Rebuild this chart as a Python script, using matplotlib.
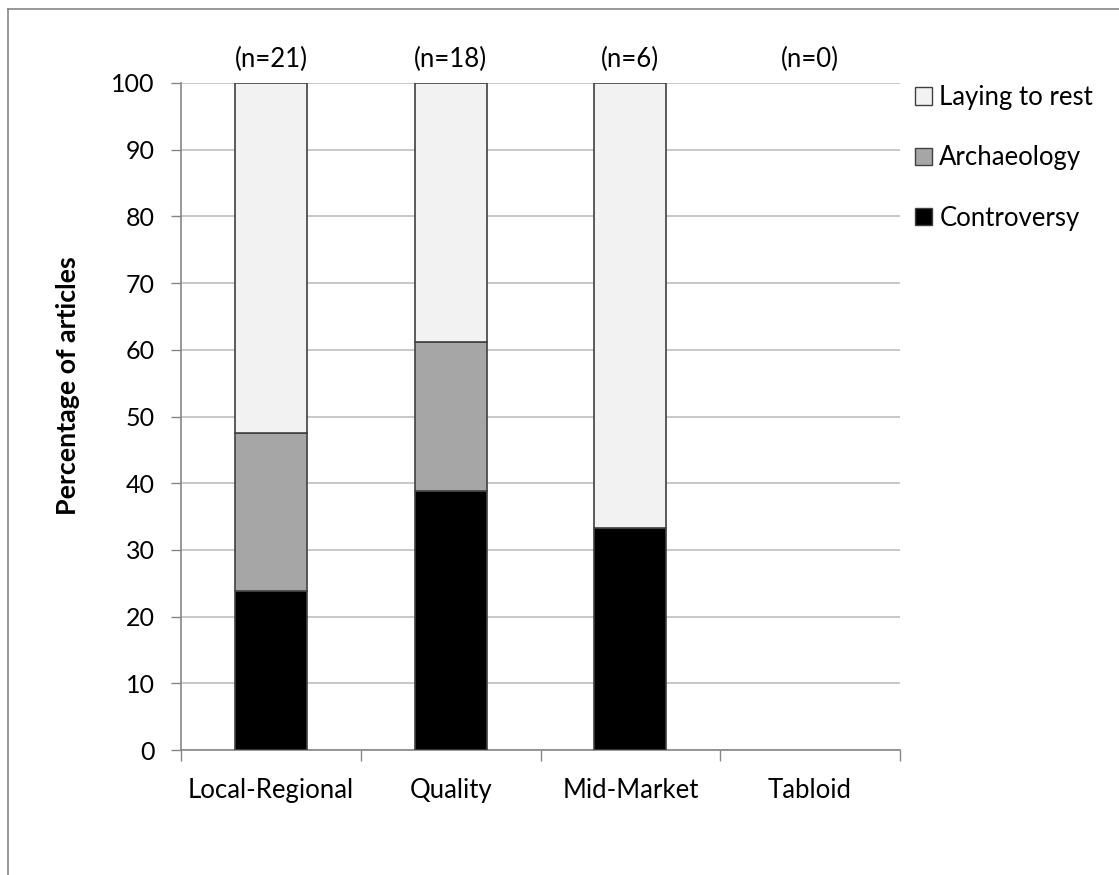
import matplotlib.pyplot as plt
from matplotlib.lines import Line2D
from matplotlib.patches import Patch
import numpy as np

plt.rcParams['font.family'] = ['Lato', 'DejaVu Sans']

# Data
categories = ['Local-Regional', 'Quality', 'Mid-Market', 'Tabloid']
counts = [21, 18, 6, 0]
controversy = [23.8, 38.9, 33.3, 0]
archaeology = [23.8, 22.2, 0, 0]
laying_to_rest = [52.4, 38.9, 66.7, 0]

series_names = ['Controversy', 'Archaeology', 'Laying to rest']
series_colors = ['#000000', '#A6A6A6', '#F2F2F2']

fig = plt.figure(figsize=(11.19, 8.75), dpi=100)
ax = fig.add_axes([181 / 1119, 1 - 750 / 875, (900 - 181) / 1119, (750 - 83) / 875])

x = np.arange(len(categories))
bottom = np.zeros(len(categories))
for vals, name, col in zip([controversy, archaeology, laying_to_rest], series_names, series_colors):
    vals = np.array(vals)
    # no outline on empty segments
    lw = np.where(vals > 0, 1.2, 0)
    ax.bar(x, vals, width=0.4, bottom=bottom, color=col, edgecolor='#404040',
           linewidth=lw, label=name, zorder=3)
    bottom += vals

# n labels above bars
for i, n in enumerate(counts):
    ax.text(x[i], 101.6, f'(n={n})', ha='center', va='bottom', fontsize=18.5)

ax.set_xlim(-0.5, len(categories) - 0.5)
ax.set_ylim(0, 100)
ax.set_yticks(np.arange(0, 101, 10))
ax.tick_params(axis='y', labelsize=18, length=7, width=1, color='#868686', pad=12)
ax.set_xticks(x)
ax.set_xticklabels(categories)
ax.set_xticks(np.arange(-0.5, len(categories)), minor=True)
ax.tick_params(axis='x', which='major', length=0, labelsize=18.5, pad=20)
ax.tick_params(axis='x', which='minor', length=8, width=1, color='#868686')
ax.grid(axis='y', color='#BFBFBF', linewidth=1.2, zorder=0)

for side in ['top', 'right']:
    ax.spines[side].set_visible(False)
for side in ['left', 'bottom']:
    ax.spines[side].set_color('#868686')
    ax.spines[side].set_linewidth(1.2)

ax.set_ylabel('Percentage of articles', fontsize=19.3, fontweight='bold')
ax.yaxis.set_label_coords((80 - 181) / (900 - 181), (750 - 386) / (750 - 83))

# Legend
handles = [Patch(facecolor=c, edgecolor='#404040', label=n)
           for n, c in zip(series_names, series_colors)][::-1]
fig.legend(handles=handles, loc='upper left', bbox_to_anchor=(915 / 1119, 1 - 85 / 875),
           frameon=False, fontsize=18.5, handlelength=0.65, handleheight=0.65,
           handletextpad=0.3, labelspacing=1.38, borderaxespad=0, borderpad=0)

# Outer chart frame
fig.add_artist(Line2D([8 / 1119, 8 / 1119], [0, 1 - 9 / 875], color='#868686', linewidth=1.2))
fig.add_artist(Line2D([8 / 1119, 1], [1 - 9 / 875, 1 - 9 / 875], color='#868686', linewidth=1.2))

fig.savefig('out.png', dpi=100)
